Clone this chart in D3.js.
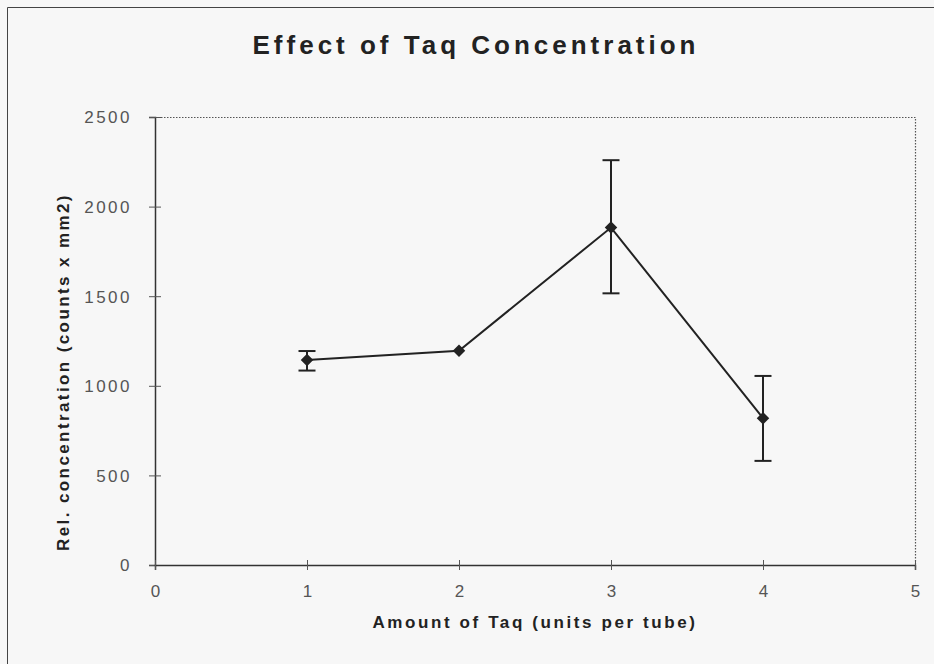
<!DOCTYPE html>
<html>
<head>
<meta charset="utf-8">
<script src="https://cdn.jsdelivr.net/npm/d3@7"></script>
<style>
  body { margin: 0; background: #f7f7f7; }
  svg { display: block; }
</style>
</head>
<body>
<svg id="chart" width="934" height="664"></svg>
<script>
(function(){
  // data
  var taqUnits = [1, 2, 3, 4]
  var relConc = [1144, 1196, 1883, 819]
  var errLow = [1085, 1190, 1516, 581]
  var errHigh = [1194, 1202, 2259, 1055]
  var xTicks = [0, 1, 2, 3, 4, 5]
  var yTicks = [0, 500, 1000, 1500, 2000, 2500]

  var svg = d3.select('#chart'),
      width = +svg.attr("width"),
      height = +svg.attr("height");

  var left = 155, right = 915, top = 117, bottom = 565

  var x = d3.scaleLinear().domain([0, 5]).range([left, right])
  var y = d3.scaleLinear().domain([0, 2500]).range([bottom, top])

  svg.append('rect').attr('width', width).attr('height', height).attr('fill', '#f7f7f7')

  // outer frame (only top and left show)
  svg.append('path')
    .attr('d', 'M7.5,' + height + 'V7.5H' + width)
    .attr('fill', 'none').attr('stroke', '#444').attr('stroke-width', 1)

  // dotted plot-area border top and right
  svg.append('path')
    .attr('d', 'M' + left + ',' + (top + 0.5) + 'H' + (right + 0.5) + 'V' + bottom)
    .attr('fill', 'none').attr('stroke', '#555').attr('stroke-width', 1.2)
    .attr('stroke-dasharray', '1.5,1.5')

  var font = 'Arial, "Liberation Sans", sans-serif'

  // axes
  var yAxis = svg.append('g').attr('transform', 'translate(' + left + ',0)')
    .call(d3.axisLeft(y).tickValues(yTicks).tickFormat(d3.format('d')).tickSize(6).tickPadding(17))
  var xAxis = svg.append('g').attr('transform', 'translate(0,' + bottom + ')')
    .call(d3.axisBottom(x).tickValues(xTicks).tickFormat(d3.format('d')).tickSize(5))

  ;[xAxis, yAxis].forEach(function(ax) {
    ax.select('.domain').attr('stroke', '#333').attr('stroke-width', 1.5)
    ax.selectAll('.tick line').attr('stroke', '#555')
    ax.selectAll('.tick text').attr('fill', '#555')
      .style('font-family', font).style('font-size', '17px')
      .style('letter-spacing', '2.5px')
  })
  yAxis.selectAll('.tick line').attr('x2', 6).attr('x1', -6)
  xAxis.selectAll('.tick line').attr('y1', -5).attr('y2', 5)
  yAxis.selectAll('.tick text').attr('dy', '0.35em')
  xAxis.selectAll('.tick text').attr('dy', '0.35em').attr('y', 26).attr('dx', 1.2)

  // connecting line
  var line = d3.line()
    .x(function(d, i) { return x(taqUnits[i]) })
    .y(function(d) { return y(d) })

  svg.append('path')
    .attr('d', line(relConc))
    .attr('fill', 'none').attr('stroke', '#222').attr('stroke-width', 2)

  // error bars
  var cap = 8.5
  var bars = svg.append('g').attr('stroke', '#222').attr('stroke-width', 2)
  taqUnits.forEach(function(u, i) {
    if (errHigh[i] - errLow[i] < 20) return
    var cx = x(u)
    bars.append('line').attr('x1', cx).attr('x2', cx)
      .attr('y1', y(errLow[i])).attr('y2', y(errHigh[i]))
    bars.append('line').attr('x1', cx - cap).attr('x2', cx + cap)
      .attr('y1', y(errLow[i])).attr('y2', y(errLow[i]))
    bars.append('line').attr('x1', cx - cap).attr('x2', cx + cap)
      .attr('y1', y(errHigh[i])).attr('y2', y(errHigh[i]))
  })

  // diamond markers
  svg.append('g').selectAll('path')
    .data(relConc)
    .enter().append('path')
    .attr('d', d3.symbol().type(d3.symbolDiamond2).size(100))
    .attr('transform', function(d, i) { return 'translate(' + x(taqUnits[i]) + ',' + y(d) + ')' })
    .attr('fill', '#222')

  // titles
  svg.append('text')
    .attr('x', 476).attr('y', 54).attr('text-anchor', 'middle')
    .style('font-family', font).style('font-size', '26px').style('font-weight', 'bold')
    .style('letter-spacing', '4px').attr('fill', '#222')
    .text('Effect of Taq Concentration')

  svg.append('text')
    .attr('x', 535).attr('y', 628).attr('text-anchor', 'middle')
    .style('font-family', font).style('font-size', '17px').style('font-weight', 'bold')
    .style('letter-spacing', '2.6px').attr('fill', '#222')
    .text('Amount of Taq (units per tube)')

  svg.append('text')
    .attr('transform', 'translate(69,372) rotate(-90)').attr('text-anchor', 'middle')
    .style('font-family', font).style('font-size', '17px').style('font-weight', 'bold')
    .style('letter-spacing', '2.4px').attr('fill', '#222')
    .text('Rel. concentration (counts x mm2)')
})()
</script>
</body>
</html>
